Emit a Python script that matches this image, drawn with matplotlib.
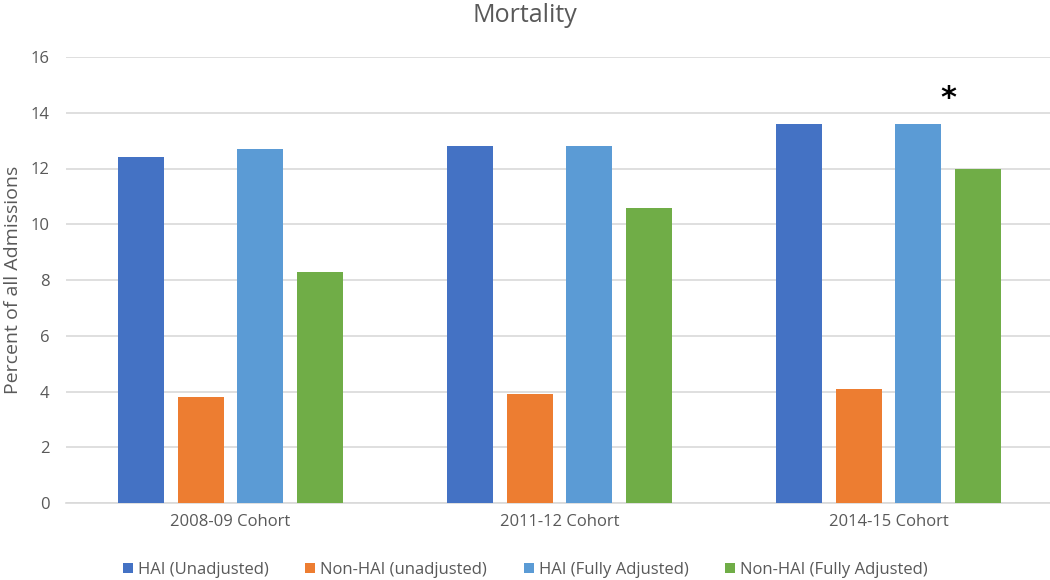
import numpy as np
import matplotlib
matplotlib.use("Agg")
import matplotlib.pyplot as plt

plt.rcParams['font.family'] = ['Open Sans', 'DejaVu Sans']

cohorts = ['2008-09 Cohort', '2011-12 Cohort', '2014-15 Cohort']
series_names = ['HAI (Unadjusted)', 'Non-HAI (unadjusted)',
                'HAI (Fully Adjusted)', 'Non-HAI (Fully Adjusted)']
hai_unadj = [12.4, 12.8, 13.6]
nonhai_unadj = [3.8, 3.9, 4.1]
hai_adj = [12.7, 12.8, 13.6]
nonhai_adj = [8.3, 10.6, 12.0]
colors = ['#4472C4', '#ED7D31', '#5B9BD5', '#70AD47']

text_col = '#595959'

fig = plt.figure(figsize=(10.5, 5.8), dpi=100)
ax = fig.add_axes([66 / 1050, 77 / 580, 987 / 1050, 446 / 580])

x = np.arange(len(cohorts))
step = 0.181
width = 0.14
all_series = [hai_unadj, nonhai_unadj, hai_adj, nonhai_adj]
for i, (vals, name, c) in enumerate(zip(all_series, series_names, colors)):
    ax.bar(x + (i - 1.5) * step, vals, width, color=c, label=name, zorder=3)

# significance marker over the last cohort
ax.text(x[2] + step, 14.5, '*', ha='center', va='center', fontsize=22,
        fontweight='bold', color='black', family='DejaVu Sans')

ax.set_xlim(-0.5, 2.5)
ax.set_ylim(0, 16)
ax.set_yticks(range(0, 17, 2))
ax.set_xticks(x)
ax.set_xticklabels(cohorts)
ax.tick_params(axis='both', length=0, colors=text_col, labelsize=12)
ax.tick_params(axis='x', pad=8)
ax.tick_params(axis='y', pad=12)
ax.yaxis.grid(True, color='#D9D9D9', linewidth=1.2, zorder=0)
for s in ['top', 'right', 'left']:
    ax.spines[s].set_visible(False)
ax.spines['bottom'].set_color('#D9D9D9')
ax.spines['bottom'].set_linewidth(1.2)

ax.set_ylabel('Percent of all Admissions', color=text_col, fontsize=14, labelpad=6)
fig.text(0.5, 1 - 15 / 580, 'Mortality', ha='center', va='center', fontsize=18, color=text_col)

ax.legend(loc='center', bbox_to_anchor=(0.5 - 34 / 987, -67 / 446), ncol=4, frameon=False,
          fontsize=12, handlelength=0.6, handleheight=0.6, handletextpad=0.3,
          columnspacing=2.2, labelcolor=text_col)

fig.savefig('out.png', dpi=100)
